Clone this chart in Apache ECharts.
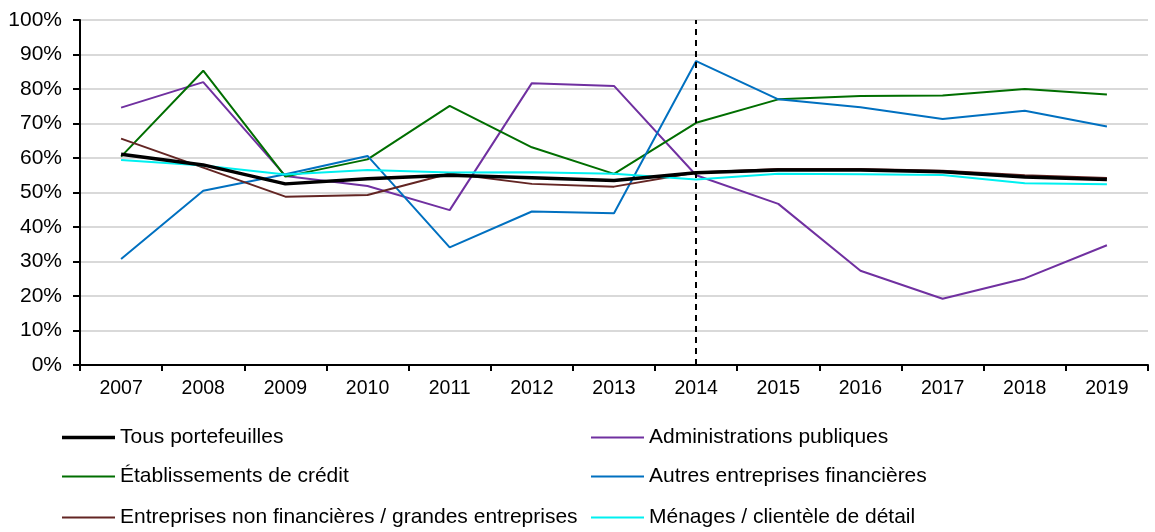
<!DOCTYPE html>
<html lang="fr">
<head>
<meta charset="UTF-8">
<title>Portefeuilles</title>
<script src="https://cdn.jsdelivr.net/npm/echarts@6/dist/echarts.min.js"></script>
<style>
  html, body { margin: 0; padding: 0; background: #fff; }
  #main { width: 1155px; height: 532px; }
</style>
</head>
<body>
<div id="main"></div>
<script>
var years = ['2007','2008','2009','2010','2011','2012','2013','2014','2015','2016','2017','2018','2019'];
var yTicks = [0, 10, 20, 30, 40, 50, 60, 70, 80, 90, 100];

var tous      = [61.1, 58.0, 52.5, 54.0, 55.0, 54.3, 53.5, 55.7, 56.5, 56.5, 56.0, 54.5, 53.8];
var admin     = [74.6, 82.0, 54.8, 51.9, 44.9, 81.7, 80.9, 55.0, 46.7, 27.3, 19.2, 25.1, 34.7];
var credit    = [60.4, 85.3, 54.6, 59.6, 75.1, 63.1, 55.4, 70.2, 77.0, 78.0, 78.1, 80.0, 78.4];
var autres    = [30.7, 50.5, 55.3, 60.6, 34.1, 44.5, 44.0, 88.1, 77.0, 74.7, 71.3, 73.7, 69.1];
var entrep    = [65.6, 57.2, 48.8, 49.3, 55.5, 52.5, 51.7, 55.8, 56.8, 56.8, 56.3, 55.0, 54.2];
var menages   = [59.4, 57.8, 55.2, 56.5, 55.8, 55.9, 55.4, 53.8, 55.4, 55.3, 55.1, 52.7, 52.4];

var font = 'Liberation Sans, Arial, sans-serif';

function line(name, data, color, width) {
    return {
        name: name,
        type: 'line',
        data: data,
        symbol: 'none',
        lineStyle: {color: color, width: width},
        itemStyle: {color: color},
        emphasis: {disabled: true}
    };
}

var series = [
    line('Tous portefeuilles', tous, '#000000', 3.5),
    line('Administrations publiques', admin, '#7030A0', 2),
    line('Établissements de crédit', credit, '#006E00', 2),
    line('Autres entreprises financières', autres, '#0070C0', 2),
    line('Entreprises non financières / grandes entreprises', entrep, '#632523', 2),
    line('Ménages / clientèle de détail', menages, '#00F0F0', 2)
];
series[0].z = 5;
series[1].markLine = {
    silent: true,
    symbol: 'none',
    label: {show: false},
    lineStyle: {color: '#000', type: [6, 5], width: 2},
    data: [{xAxis: '2014'}]
};

// one legend per entry: two columns, three rows
var legendPos = [
    [62, 427], [591, 427],
    [62, 466], [591, 466],
    [62, 507], [591, 507]
];
var legends = series.map(function (s, k) {
    return {
        left: legendPos[k][0],
        top: legendPos[k][1],
        padding: 0,
        data: [s.name],
        icon: 'rect',
        itemWidth: 53,
        itemHeight: s.lineStyle.width,
        itemGap: 0,
        selectedMode: false,
        textStyle: {fontFamily: font, fontSize: 21, color: '#000'}
    };
});

var option = {
    animation: false,
    grid: {left: 80, right: 7, top: 20, bottom: 167},
    legend: legends,
    xAxis: {
        type: 'category',
        data: years,
        boundaryGap: true,
        axisLine: {lineStyle: {color: '#000', width: 2}},
        axisTick: {show: true, length: 6, lineStyle: {color: '#000', width: 2}},
        axisLabel: {color: '#000', fontFamily: font, fontSize: 19.5, margin: 14}
    },
    yAxis: {
        type: 'value',
        min: yTicks[0],
        max: yTicks[yTicks.length - 1],
        interval: 10,
        axisLine: {show: true, lineStyle: {color: '#000', width: 2}},
        axisTick: {show: true, length: 7, lineStyle: {color: '#000', width: 2}},
        axisLabel: {color: '#000', fontFamily: font, fontSize: 21, margin: 18, formatter: '{value}%'},
        splitLine: {lineStyle: {color: '#D9D9D9', width: 2}}
    },
    series: series
};

var myChart = echarts.init(document.getElementById('main'));
myChart.setOption(option);
</script>
</body>
</html>
